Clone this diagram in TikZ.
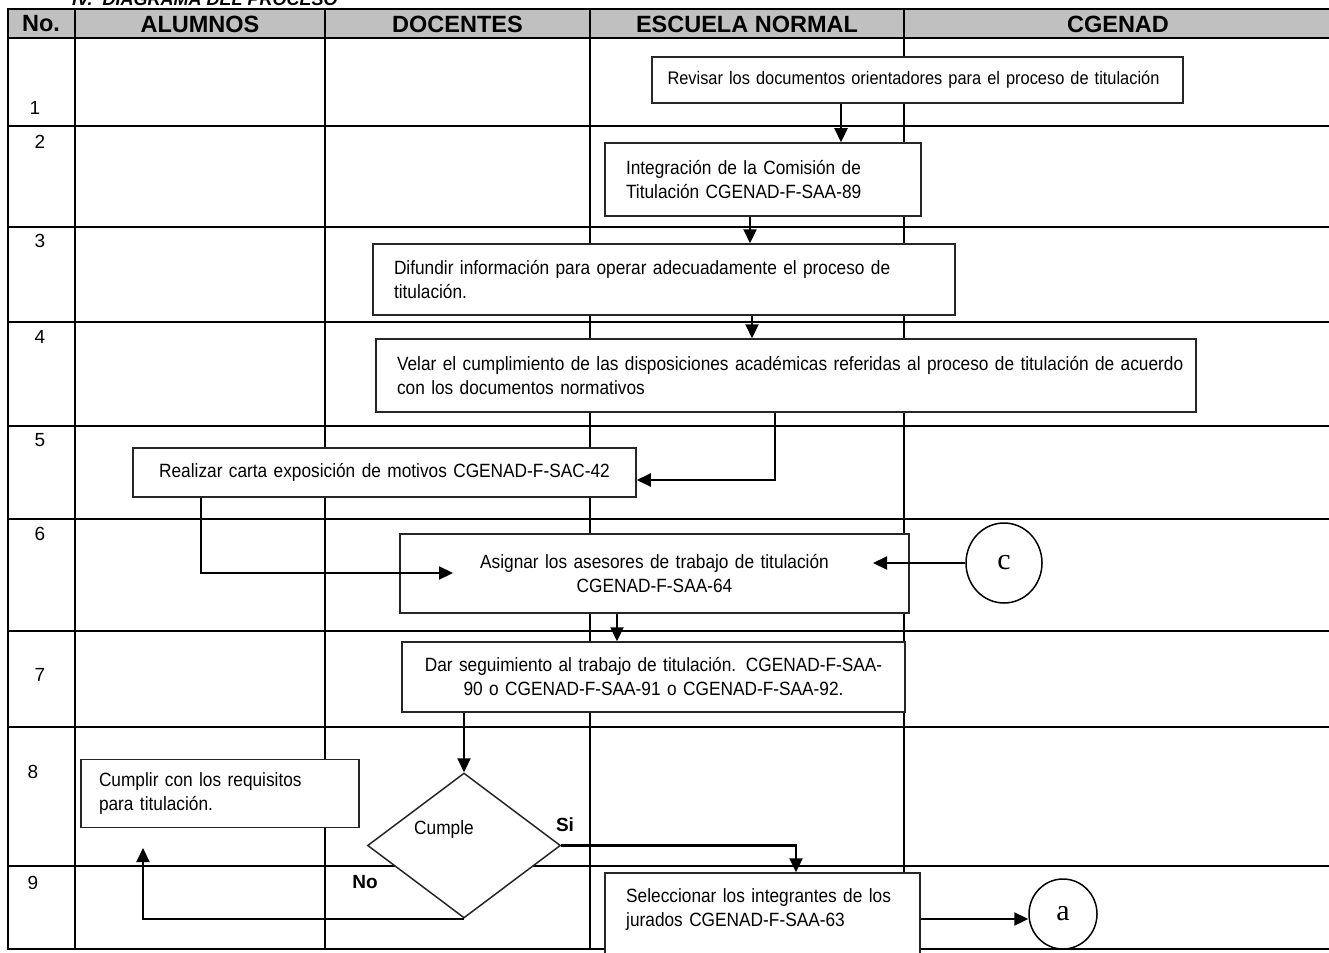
\documentclass[tikz,border=0pt]{standalone}
\usepackage{fontspec}
\setmainfont{Liberation Sans}
\newfontfamily\bodyfont[FakeStretch=0.9]{Liberation Sans}
\newfontfamily\circfont{Liberation Serif}
\usetikzlibrary{shapes.geometric,arrows.meta}
\definecolor{hdrgray}{RGB}{192,192,192}
\begin{document}
\begin{tikzpicture}[x=1pt,y=-1pt,
  grid/.style={line width=2pt,black},
  bx/.style={draw=black!85,line width=1.5pt,fill=white,inner sep=0pt,font=\bodyfont\fontsize{19.2}{24}\selectfont},
  arr/.style={line width=2.2pt,-{Triangle[length=14pt,width=13pt]}},
  hdr/.style={font=\fontsize{23.5}{26}\selectfont\bfseries},
  num/.style={font=\fontsize{19}{22}\selectfont},
  lbl/.style={font=\fontsize{19}{22}\selectfont\bfseries},
  circ/.style={ellipse,draw,line width=1.5pt,fill=white,inner sep=0pt,font=\circfont\fontsize{30}{30}\selectfont},
]
\useasboundingbox (0,0) rectangle (1329,952);
% table
\fill[hdrgray] (7.5,9) rectangle (1340,38);
\foreach \y in {9,38,126,227,322,426,519,631,727,866,949}
  \draw[grid] (6.5,\y) -- (1340,\y);
\foreach \x in {7.5,75,325,590,904}
  \draw[grid] (\x,9) -- (\x,949);
% title and headers
\node[anchor=base west,inner sep=0pt,font=\fontsize{18}{20}\selectfont\bfseries\itshape] (title) at (72,6) {IV.\ \ DIAGRAMA DEL PROCESO};
\node[hdr] (hno) at (41,24) {No.};
\node[hdr] (hal) at (200,24) {ALUMNOS};
\node[hdr] (hdo) at (457.5,24) {DOCENTES};
\node[hdr] (hen) at (747,24) {ESCUELA NORMAL};
\node[hdr] (hcg) at (1118,24) {CGENAD};
% row numbers
\node[num] (n1) at (35,108) {1};
\node[num] (n2) at (40,142) {2};
\node[num] (n3) at (40,241) {3};
\node[num] (n4) at (40,337) {4};
\node[num] (n5) at (40,440) {5};
\node[num] (n6) at (40,534) {6};
\node[num] (n7) at (40,675) {7};
\node[num] (n8) at (33,772) {8};
\node[num] (n9) at (33,883) {9};
% boxes
\node[bx,minimum width=531pt,minimum height=46pt,text width=500pt,align=left,font=\bodyfont\fontsize{18.2}{24}\selectfont] (box1) at (917.5,80)
  {Revisar los documentos orientadores para el proceso de titulación};
\node[bx,minimum width=316pt,minimum height=73pt,text width=274pt,align=left] (box2) at (763,179.5)
  {\makebox[274pt][s]{Integración de la Comisión de}\\Titulación CGENAD-F-SAA-89};
\node[bx,minimum width=582pt,minimum height=71pt,text width=540pt,align=left] (box3) at (664,279.5)
  {\makebox[540pt][s]{Difundir información para operar adecuadamente el proceso de}\\titulación.};
\node[bx,minimum width=820pt,minimum height=73pt,text width=778pt,align=left] (box4) at (786,375.5)
  {\mbox{Velar el cumplimiento de las disposiciones académicas referidas al proceso de titulación de acuerdo}\\con los documentos normativos};
\node[bx,minimum width=503pt,minimum height=49pt,text width=480pt,align=center] (box5) at (384.5,472.5)
  {Realizar carta exposición de motivos CGENAD-F-SAC-42};
\node[bx,minimum width=509pt,minimum height=79pt,text width=480pt,align=center] (box6) at (654.5,573.5)
  {Asignar los asesores de trabajo de titulación\\CGENAD-F-SAA-64\\[-4pt]};
\node[bx,minimum width=503pt,minimum height=70pt,text width=485pt,align=center] (box7) at (653.5,677)
  {Dar seguimiento al trabajo de titulación. CGENAD-F-SAA-\\90 o CGENAD-F-SAA-91 o CGENAD-F-SAA-92.};
\node[bx,minimum width=278pt,minimum height=68pt,text width=242pt,align=left] (box8) at (220,793.5)
  {Cumplir con los requisitos\\para titulación.};
\node[bx,minimum width=315pt,minimum height=92pt] (box9) at (762.5,919) {};
\node[anchor=north west,inner sep=0pt,text width=280pt,align=left,font=\bodyfont\fontsize{19.2}{24}\selectfont] (box9t) at (626,888)
  {Seleccionar los integrantes de los\\jurados CGENAD-F-SAA-63};
% decision
\node[diamond,draw=black!85,line width=1.5pt,fill=white,inner sep=0pt,minimum width=193pt,minimum height=145pt] (dec) at (464,845.5) {};
\node[font=\bodyfont\fontsize{19.2}{24}\selectfont] (dect) at (444,830) {Cumple};
\node[lbl] (si) at (565,825) {Si};
\node[lbl] (no) at (365,882) {No};
% off-page connector circles
\node[circ,minimum width=76pt,minimum height=80pt] (cc) at (1004,563) {c};
\node[circ,minimum width=68pt,minimum height=70pt] (ca) at (1063,914) {a};
% connectors
\coordinate (v1) at (841,0);
\coordinate (v2) at (750,0);
\coordinate (v3) at (752,0);
\coordinate (v4) at (775,0);
\coordinate (v5) at (201,0);
\coordinate (v6) at (617,0);
\coordinate (v7) at (464,0);
\coordinate (v9) at (796,0);
\coordinate (e6) at (453,573);
\coordinate (e6b) at (873,563);
\coordinate (e8) at (143,848);
\draw[arr] (box1.south -| v1) -- (box2.north -| v1);
\draw[arr] (box2.south -| v2) -- (box3.north -| v2);
\draw[arr] (box3.south -| v3) -- (box4.north -| v3);
\draw[arr] (box4.south -| v4) |- ([yshift=-7.5pt]box5.east);
\draw[arr] (box5.south -| v5) |- (e6);
\draw[arr] (cc.west) -- (e6b);
\draw[arr] (box6.south -| v6) -- (box7.north -| v6);
\draw[arr] (box7.south -| v7) -- (dec.north);
\draw[arr] (dec.east) -| (box9.north -| v9);
\draw[arr] (dec.south) -| (e8);
\draw[arr] (box9.east) -- (box9.east -| ca.west);
\end{tikzpicture}
\end{document}
